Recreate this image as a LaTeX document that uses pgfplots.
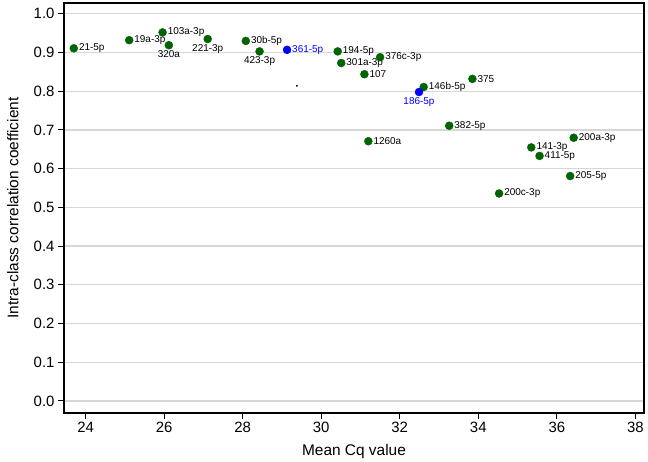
\documentclass[border=0pt]{standalone}
\usepackage{fontspec}
\setmainfont{Liberation Sans}
\usepackage{pgfplots}
\usepackage{pgfplotstable}
\pgfplotsset{compat=1.18}
\definecolor{dotgreen}{RGB}{0,100,0}
\definecolor{gridgray}{RGB}{215,215,215}

% labels to the right of the dot
\pgfplotstableread{
x y label
23.70 0.911 21-5p
25.11 0.932 19a-3p
25.96 0.952 103a-3p
28.08 0.930 30b-5p
30.42 0.903 194-5p
30.51 0.873 301a-3p
31.50 0.888 376c-3p
31.10 0.844 107
33.85 0.832 375
32.61 0.811 146b-5p
33.26 0.711 382-5p
31.20 0.671 1260a
36.43 0.680 200a-3p
35.35 0.655 141-3p
35.56 0.633 411-5p
36.34 0.581 205-5p
34.53 0.536 200c-3p
}\greenright

% labels under the dot
\pgfplotstableread{
x y label
26.12 0.919 320a
27.11 0.935 221-3p
28.43 0.903 423-3p
}\greenbelow

\pgfplotstableread{
x y label
29.13 0.907 361-5p
}\blueright

\pgfplotstableread{
x y label
32.49 0.798 186-5p
}\bluebelow

\begin{document}
\begin{tikzpicture}
\path[use as bounding box] (0,0) rectangle (648bp,462bp);
\begin{axis}[
    at={(64bp,49bp)}, anchor=south west,
    scale only axis, width=580bp, height=410bp,
    xmin=23.45, xmax=38.22, ymin=-0.031, ymax=1.028,
    xtick={24,26,28,30,32,34,36,38},
    ytick={0,0.1,0.2,0.3,0.4,0.5,0.6,0.7,0.8,0.9,1.0},
    yticklabel style={/pgf/number format/.cd, fixed, fixed zerofill, precision=1},
    /pgf/number format/assume math mode=true,
    tick label style={font=\fontsize{15}{18}\selectfont},
    tick align=outside, tick pos=left,
    major tick length=6bp,
    tick style={black, line width=1bp},
    axis line style={line width=1.2bp, black},
    ymajorgrids,
    grid style={gridgray, line width=1.3bp},
    xlabel={Mean Cq value},
    ylabel={Intra-class correlation coefficient},
    label style={font=\fontsize{15.5}{18}\selectfont},
    xlabel style={at={(axis description cs:0.5,-0.095)}, anchor=center},
    ylabel style={at={(axis description cs:-0.088,0.5)}, anchor=center},
    clip=false,
    point meta=explicit symbolic,
    every node near coord/.append style={font=\fontsize{10}{12}\selectfont, inner sep=1bp},
]
\addplot[only marks, mark=*, mark size=4bp, mark options={draw=dotgreen, fill=dotgreen},
    nodes near coords, nodes near coords style={anchor=west, xshift=4bp, text=black}]
    table[meta=label] {\greenright};
\addplot[only marks, mark=*, mark size=4bp, mark options={draw=dotgreen, fill=dotgreen},
    nodes near coords, nodes near coords style={anchor=north, yshift=-4bp, text=black}]
    table[meta=label] {\greenbelow};
\addplot[only marks, mark=*, mark size=4bp, mark options={draw=blue, fill=blue},
    nodes near coords, nodes near coords style={anchor=west, xshift=4bp, text=blue}]
    table[meta=label] {\blueright};
\addplot[only marks, mark=*, mark size=4bp, mark options={draw=blue, fill=blue},
    nodes near coords, nodes near coords style={anchor=north, yshift=-4bp, text=blue}]
    table[meta=label] {\bluebelow};
\addplot[only marks, mark=*, mark size=0.7bp, black] coordinates {(29.38,0.814)};
\end{axis}
\end{tikzpicture}
\end{document}
